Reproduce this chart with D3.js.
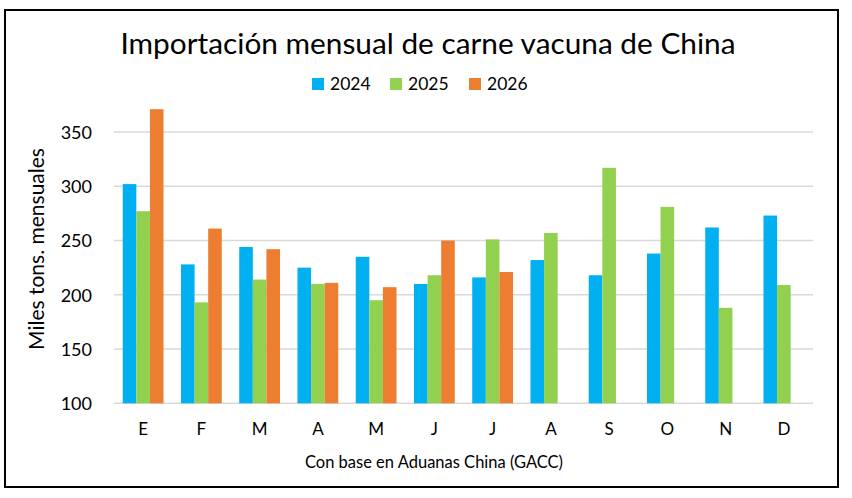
<!DOCTYPE html>
<html><head><meta charset="utf-8">
<script src="https://cdn.jsdelivr.net/npm/d3@7"></script>
<style>body{margin:0;background:#fff}svg{display:block}text{font-family:Lato,"Open Sans",sans-serif;fill:#000}</style>
</head><body>
<svg id="c" width="852" height="498"></svg>
<script>
const months = ["E","F","M","A","M","J","J","A","S","O","N","D"];
const seriesNames = ["2024","2025","2026"];
const v2024 = [302,228,244,225,235,210,216,232,218,238,262,273];
const v2025 = [277,193,214,210,195,218,251,257,317,281,188,209];
const v2026 = [371,261,242,211,207,250,221,null,null,null,null,null];
const yTicks = [100,150,200,250,300,350];
const colors = ["#00B0F0","#92D050","#ED7D31"];
const title = "Importación mensual de carne vacuna de China";
const yTitle = "Miles tons. mensuales";
const xTitle = "Con base en Aduanas China (GACC)";

const svg = d3.select("#c");
svg.append("rect").attr("x",5).attr("y",10).attr("width",833).attr("height",477)
  .attr("fill","#fff").attr("stroke","#000").attr("stroke-width",2);

const pL=114,pR=813,pT=132,pB=403.3;
const idx = months.map((m,i)=>i);
const x0 = d3.scaleBand().domain(idx).range([pL,pR]).paddingInner(0.3).paddingOuter(0.15);
const x1 = d3.scaleBand().domain(seriesNames).range([0,x0.bandwidth()]);
const y = d3.scaleLinear().domain([100,350]).range([pB,pT]);

// gridlines
svg.append("g").selectAll("line").data(yTicks).join("line")
  .attr("x1",pL).attr("x2",pR).attr("y1",d=>y(d)).attr("y2",d=>y(d))
  .attr("stroke","#D9D9D9").attr("stroke-width",1.6);

// y axis labels
const yAxis = d3.axisLeft(y).tickValues(yTicks).tickSize(0).tickPadding(0);
const ga = svg.append("g").attr("transform",`translate(${pL-22},0)`).call(yAxis);
ga.select(".domain").remove();
ga.selectAll("text").attr("font-size",18).attr("font-family","Lato").attr("fill","#000").attr("dy","0.35em");

// bars
const data = [v2024,v2025,v2026];
const g = svg.append("g");
data.forEach((vals,si)=>{
  g.append("g").selectAll("rect").data(vals.map((v,i)=>({v,i})).filter(d=>d.v!=null)).join("rect")
    .attr("x",d=>x0(d.i)+x1(seriesNames[si]))
    .attr("width",x1.bandwidth())
    .attr("y",d=>y(d.v)).attr("height",d=>y(100)-y(d.v))
    .attr("fill",colors[si]);
});

// x axis
const xAxis = d3.axisBottom(x0).tickFormat(i=>months[i]).tickSize(0).tickPadding(0);
const gx = svg.append("g").attr("transform",`translate(0,${pB})`).call(xAxis);
gx.select(".domain").remove();
gx.selectAll("text").attr("font-size",17).attr("font-family","Lato").attr("fill","#000").attr("dy",null).attr("y",32);

// title
svg.append("text").attr("x",428).attr("y",54).attr("text-anchor","middle").attr("font-size",29.8).text(title);

// legend
const legX=[312,390,469];
seriesNames.forEach((s,i)=>{
  svg.append("rect").attr("x",legX[i]).attr("y",78).attr("width",12).attr("height",12).attr("fill",colors[i]);
  svg.append("text").attr("x",legX[i]+18).attr("y",90).attr("font-size",17.5).text(s);
});

// axis titles
svg.append("text").attr("transform","translate(44,249) rotate(-90)").attr("text-anchor","middle").attr("font-size",21).text(yTitle);
svg.append("text").attr("x",434).attr("y",468).attr("text-anchor","middle").attr("font-size",16.5).text(xTitle);
</script>
</body></html>
